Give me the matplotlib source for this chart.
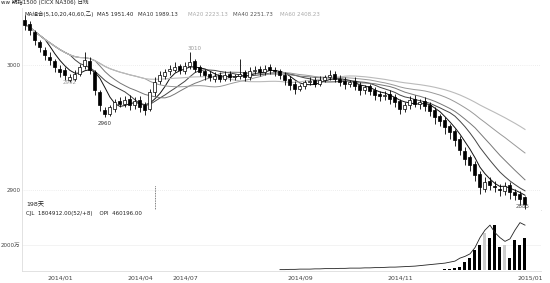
import numpy as np
import pandas as pd
from matplotlib import pyplot as plt

plt.rcParams['font.family'] = ['DejaVu Sans', 'Noto Sans CJK SC']

# daily candles
opens = [3036, 3033, 3026, 3018, 3012, 3006, 3003, 2997, 2996, 2988,
         2989, 2993, 2999, 3003, 2994, 2978, 2964, 2961, 2965, 2971,
         2969, 2973, 2968, 2972, 2968, 2965, 2978, 2987, 2991, 2995,
         2996, 2999, 2995, 2999, 3003, 2998, 2995, 2993, 2989, 2992,
         2989, 2993, 2990, 2991, 2994, 2990, 2995, 2997, 2994, 2998,
         2996, 2995, 2992, 2989, 2985, 2981, 2983, 2986, 2988, 2985,
         2988, 2990, 2993, 2989, 2987, 2985, 2987, 2984, 2980, 2983,
         2980, 2977, 2975, 2977, 2974, 2971, 2965, 2968, 2973, 2969,
         2971, 2968, 2964, 2959, 2956, 2951, 2947, 2941, 2931, 2926,
         2921, 2913, 2901, 2907, 2903, 2901, 2899, 2904, 2898, 2897, 2894]
closes = [3032, 3028, 3020, 3014, 3008, 3004, 2998, 2994, 2992, 2990,
          2993, 2998, 3004, 2996, 2980, 2968, 2961, 2966, 2970, 2969,
          2972, 2968, 2971, 2966, 2964, 2978, 2986, 2992, 2994, 2997,
          2998, 2996, 2999, 3002, 2997, 2994, 2992, 2990, 2991, 2989,
          2992, 2990, 2991, 2993, 2990, 2995, 2996, 2994, 2997, 2996,
          2995, 2992, 2988, 2984, 2981, 2983, 2986, 2987, 2985, 2988,
          2990, 2992, 2989, 2986, 2985, 2986, 2983, 2980, 2982, 2979,
          2976, 2975, 2976, 2973, 2970, 2965, 2968, 2972, 2969, 2970,
          2967, 2963, 2958, 2955, 2950, 2946, 2940, 2932, 2925, 2920,
          2912, 2902, 2906, 2904, 2902, 2900, 2903, 2898, 2896, 2893, 2889]
highs = [3040, 3035, 3028, 3020, 3014, 3010, 3005, 3000, 2998, 2993,
         2996, 3001, 3010, 3006, 2996, 2980, 2966, 2968, 2973, 2974,
         2975, 2976, 2974, 2975, 2970, 2981, 2990, 2995, 2997, 3000,
         3002, 3001, 3002, 3010, 3005, 3000, 2997, 2995, 2994, 2994,
         2995, 2995, 2993, 3005, 2996, 2998, 2999, 2999, 3000, 3001,
         2998, 2997, 2994, 2991, 2987, 2985, 2988, 2990, 2990, 2991,
         2992, 2996, 2995, 2992, 2990, 2988, 2990, 2986, 2984, 2985,
         2982, 2979, 2979, 2980, 2977, 2973, 2970, 2975, 2976, 2973,
         2974, 2970, 2966, 2961, 2958, 2953, 2949, 2943, 2934, 2928,
         2923, 2915, 2910, 2910, 2907, 2905, 2906, 2906, 2901, 2899, 2895]
lows = [3028, 3024, 3016, 3010, 3004, 3000, 2994, 2990, 2988, 2986,
        2987, 2991, 2997, 2993, 2976, 2963, 2958, 2959, 2962, 2966,
        2966, 2964, 2965, 2962, 2960, 2963, 2975, 2985, 2989, 2992,
        2994, 2993, 2993, 2997, 2994, 2991, 2988, 2987, 2986, 2986,
        2987, 2987, 2988, 2989, 2987, 2988, 2993, 2991, 2992, 2993,
        2991, 2989, 2984, 2980, 2977, 2979, 2981, 2984, 2982, 2983,
        2986, 2988, 2986, 2983, 2981, 2982, 2980, 2976, 2977, 2976,
        2972, 2971, 2972, 2969, 2966, 2961, 2962, 2965, 2966, 2965,
        2963, 2959, 2953, 2951, 2945, 2941, 2935, 2928, 2920, 2915,
        2907, 2897, 2898, 2900, 2898, 2895, 2896, 2893, 2892, 2888, 2885]

# volume (万) for the last days, open interest line from day 51 on
vol_start = 84
volume = [80, 120, 160, 240, 640, 960, 1600, 2000, 3000, 2560,
          3600, 1840, 2000, 960, 2400, 2000, 2560]
opi_start = 51
opi = [40, 40, 60, 60, 80, 80, 80, 100, 100, 120,
       120, 120, 140, 140, 160, 160, 160, 180, 180, 200,
       200, 220, 240, 240, 260, 280, 300, 320, 360, 400,
       440, 480, 520, 560, 640, 720, 960, 1100, 1300, 1800,
       2600, 3200, 3600, 3000, 2600, 2300, 2500, 3200, 3800, 3600]

date_ticks = [7, 23, 32, 55, 75, 101]
date_labels = ['2014/01', '2014/04', '2014/07', '2014/09', '2014/11', '2015/01']

df = pd.DataFrame({'open': opens, 'close': closes, 'high': highs, 'low': lows})
x = np.arange(len(df))

fig = plt.figure(figsize=(5.5, 2.83), dpi=100)
ax = fig.add_axes([0.04, 0.258, 0.9436, 0.714])
axv = fig.add_axes([0.04, 0.042, 0.9436, 0.2155], sharex=ax)

# moving averages (shorter windows here so the lines sit where the picture shows them)
ma_styles = [(5, '#111111', 0.7), (10, '#444444', 0.7), (15, '#777777', 0.7),
             (25, '#999999', 0.7), (40, '#bbbbbb', 0.8)]
for n, c, lw in ma_styles:
    ax.plot(x, df['close'].rolling(n, min_periods=1).mean(), color=c, lw=lw, zorder=2)

up = df['close'] >= df['open']
ax.vlines(x, df['low'], df['high'], color='black', lw=0.6, zorder=3)
body = (df['close'] - df['open']).abs().clip(lower=0.6)
bottom = df[['open', 'close']].min(axis=1)
ax.bar(x[up], body[up], bottom=bottom[up], width=0.6, facecolor='white',
       edgecolor='black', lw=0.5, zorder=4)
ax.bar(x[~up], body[~up], bottom=bottom[~up], width=0.6, facecolor='black',
       edgecolor='black', lw=0.5, zorder=4)

ax.set_xlim(-0.6, 103.2)
ax.set_ylim(2884, 3045.6)
for lvl in [3000, 2900]:
    ax.axhline(lvl, color='#dddddd', lw=0.5, ls=(0, (1, 2)), zorder=1)
ax.set_yticks([3000, 2900])
ax.set_yticklabels(['3000', '2900'])
ax.axvline(26, ymin=0, ymax=0.124, color='#555555', lw=0.6, ls=(0, (1, 1)))

# price annotations
ax.text(16, 2955, '2960', fontsize=4, ha='center', va='top', color='#333333')
ax.text(34, 3011, '3010', fontsize=4, ha='center', va='bottom', color='#999999')
ax.text(9, 2988, '2992', fontsize=4, ha='center', va='top', color='#999999')
ax.text(99.5, 2887, '2885', fontsize=4, ha='center', va='center', color='#555555')
ax.text(0.2, 2888, '198天', fontsize=4.5, ha='left', va='center', color='#222222')

# header lines
fig.text(0.002, 0.992, 'ww 期指1500 (CICX NA306) 日线', fontsize=4, va='center', color='#222222')
items = [('MA組合(5,10,20,40,60,乙)', 0.045, '#222222'), ('MA5 1951.40', 0.176, '#222222'),
         ('MA10 1989.13', 0.251, '#333333'), ('MA20 2223.13', 0.342, '#aaaaaa'),
         ('MA40 2251.73', 0.424, '#555555'), ('MA60 2408.23', 0.509, '#aaaaaa')]
for t, px, c in items:
    fig.text(px, 0.95, t, fontsize=4, va='center', color=c)

# volume panel
vx = np.arange(vol_start, vol_start + len(volume))
vcol = ['black' if not up[i] else '#cccccc' for i in vx]
axv.bar(vx, volume, width=0.6, color=vcol, zorder=3)
ox = np.arange(opi_start, opi_start + len(opi))
axv.plot(ox, opi, color='#222222', lw=0.6, zorder=4)
axv.set_ylim(-80, 4800)
axv.axhline(2000, color='#eeeeee', lw=0.5, zorder=1)
axv.set_yticks([2000])
axv.set_yticklabels(['2000万'])
axv.text(0.2, 4550, 'CJL  1804912.00(52/+8)    OPI  460196.00', fontsize=4,
         va='center', color='#222222')
axv.set_xticks(date_ticks)
axv.set_xticklabels(date_labels)

for a in (ax, axv):
    for s in a.spines.values():
        s.set_visible(False)
    a.spines['left'].set_visible(True)
    a.spines['left'].set_color('#dddddd')
    a.spines['left'].set_linewidth(0.6)
    a.tick_params(axis='y', length=0, labelsize=4, labelcolor='#444444', pad=1)
ax.spines['bottom'].set_visible(True)
ax.spines['bottom'].set_color('#dddddd')
ax.spines['bottom'].set_linewidth(0.6)
ax.tick_params(axis='x', bottom=False, labelbottom=False)
axv.spines['bottom'].set_visible(True)
axv.spines['bottom'].set_color('#dddddd')
axv.spines['bottom'].set_linewidth(0.6)
axv.tick_params(axis='x', length=0, labelsize=4.5, labelcolor='#444444', pad=3)

fig.savefig('out.png', dpi=100, facecolor='white')
